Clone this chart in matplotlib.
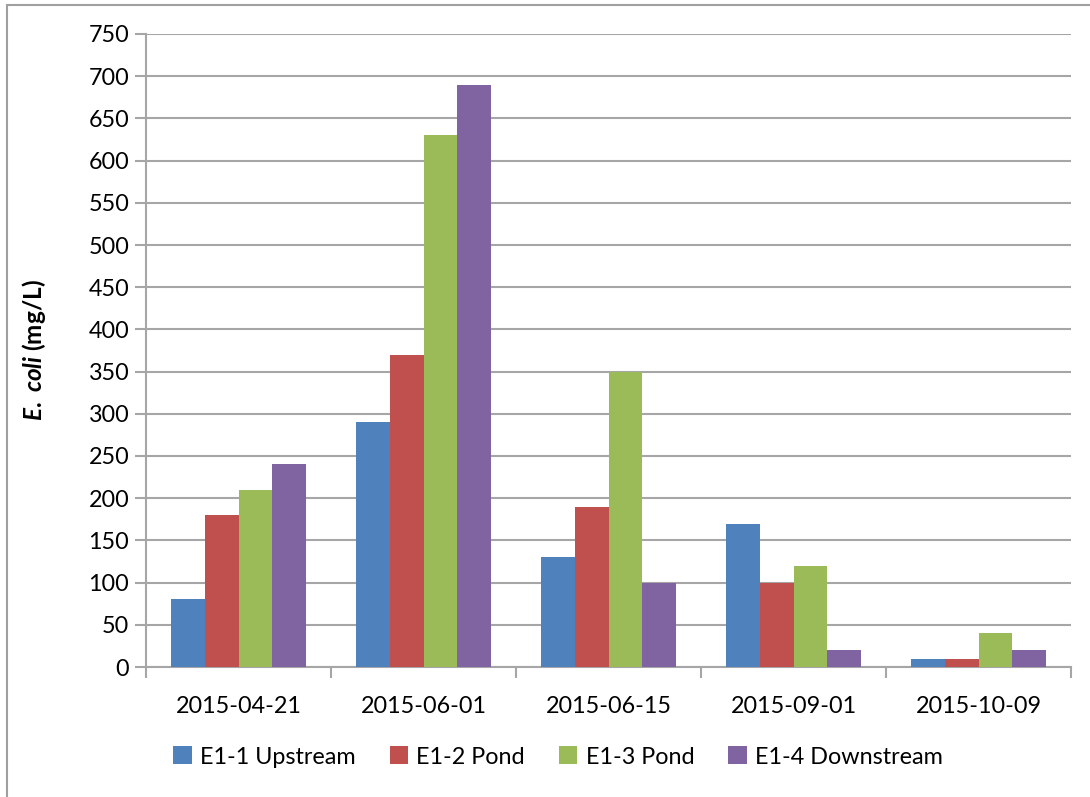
import matplotlib
matplotlib.use("Agg")
import matplotlib.pyplot as plt
from matplotlib.patches import Rectangle
import numpy as np

dates = ["2015-04-21", "2015-06-01", "2015-06-15", "2015-09-01", "2015-10-09"]
series_names = ["E1-1 Upstream", "E1-2 Pond", "E1-3 Pond", "E1-4 Downstream"]
upstream = [80, 290, 130, 170, 10]
pond_2 = [180, 370, 190, 100, 10]
pond_3 = [210, 630, 350, 120, 40]
downstream = [240, 690, 100, 20, 20]
series_values = [upstream, pond_2, pond_3, downstream]
colors = ["#4F81BD", "#C0504D", "#9BBB59", "#8064A2"]
y_ticks = list(range(0, 751, 50))

plt.rcParams["font.family"] = ["Lato", "DejaVu Sans"]
plt.rcParams["mathtext.fontset"] = "custom"
plt.rcParams["mathtext.it"] = "Lato:italic:bold"
plt.rcParams["mathtext.rm"] = "Lato:bold"

FS = 16.8
W, H = 1090, 797
fig = plt.figure(figsize=(W / 100, H / 100), dpi=100)
ax = fig.add_axes([146 / W, 1 - 667 / H, (1071 - 146) / W, (667 - 34) / H])

grid_col = "#A6A6A6"
n = len(series_names)
bw = 1 / (n + 1.5)
x = np.arange(len(dates))
for i, (name, vals, c) in enumerate(zip(series_names, series_values, colors)):
    ax.bar(x + (i - (n - 1) / 2) * bw, vals, width=bw, color=c, label=name,
           zorder=3, linewidth=0)

ax.set_xlim(-0.5, len(dates) - 0.5)
ax.set_ylim(0, 750)
ax.set_yticks(y_ticks)
ax.yaxis.grid(True, color=grid_col, linewidth=1.5, zorder=0)
ax.set_axisbelow(True)

ax.set_xticks(x)
ax.set_xticklabels(dates)
ax.set_xticks(np.arange(-0.5, len(dates)), minor=True)
ax.tick_params(axis="x", which="major", length=0, pad=21, labelsize=FS)
ax.tick_params(axis="x", which="minor", length=8, width=1.5, color=grid_col,
               direction="out")
ax.tick_params(axis="y", length=8, width=1.5, color=grid_col, pad=4,
               labelsize=FS)

for s in ["top", "right"]:
    ax.spines[s].set_visible(False)
for s in ["left", "bottom"]:
    ax.spines[s].set_color(grid_col)
    ax.spines[s].set_linewidth(1.5)

ax.set_ylabel(r"$E.\ coli$ (mg/L)", fontsize=17.5, fontweight="bold")
ax.yaxis.set_label_coords(-98 / (1071 - 146), 0.5)

leg = fig.legend(loc="center", bbox_to_anchor=(558 / W, 1 - 757 / H), ncol=4,
                 frameon=False, fontsize=FS, handlelength=0.8,
                 handleheight=0.8, handletextpad=0.35, columnspacing=1.45)

fig.patches.append(Rectangle((7 / W, -0.05), 1.1, 1 - 5 / H + 0.05,
                             transform=fig.transFigure, fill=False,
                             edgecolor="#A0A0A0", linewidth=1.5,
                             figure=fig))

fig.savefig("out.png", dpi=100, facecolor="white")
